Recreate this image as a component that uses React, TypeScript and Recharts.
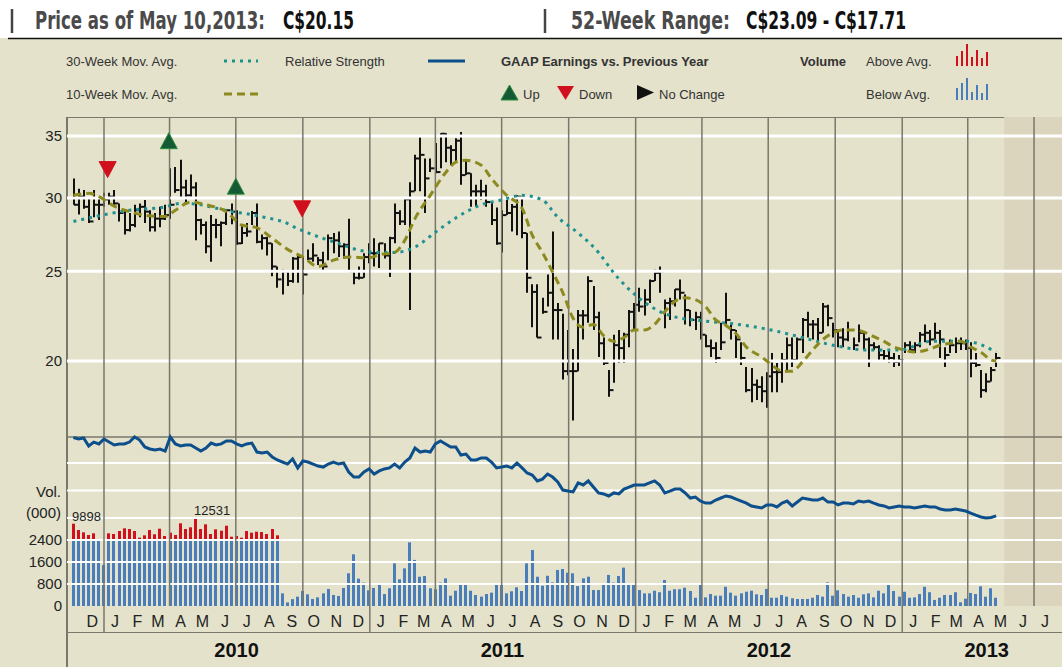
import { ComposedChart, Bar, Line, Scatter, XAxis, YAxis, ReferenceLine, ReferenceArea, LabelList } from "recharts";

// days counted from 1 Jan 2010
const day = (s: string) => (Date.parse(s) - Date.parse("2010-01-01")) / 86400000;

const FIRST_WEEK = "2009-11-20";

const HIGH = [
  31.5, 30.7, 30.6, 30.0, 30.6, 30.1, 30.4, 30.4, 30.6, 29.6, 29.1, 28.9, 29.5, 29.6, 29.85, 29.1, 28.9, 29.35, 29.5, 32.3,
  32.4, 33.0, 31.4, 31.8, 31.2, 28.5, 28.3, 28.75, 28.5, 28.3, 29.1, 29.6, 29.1, 28.05, 28.2, 29.05, 29.6, 27.4, 27.25, 26.8,
  25.3, 25.1, 25.0, 25.9, 26.0, 25.9, 26.4, 26.8, 25.9, 26.25, 27.4, 27.5, 27.6, 26.8, 28.5, 25.0, 25.3, 26.15, 26.8, 27.15,
  26.8, 26.8, 27.25, 29.6, 29.1, 30.0, 31.2, 33.4, 34.9, 33.1, 33.1, 34.4, 35.25, 35.25, 34.2, 34.8, 35.35, 33.0, 31.9, 31.0,
  31.4, 31.0, 29.7, 29.3, 29.1, 29.85, 29.55, 30.2, 30.1, 27.5, 24.2, 24.2, 23.4, 24.8, 27.6, 23.1, 22.5, 21.6, 20.6, 22.7,
  22.7, 24.7, 24.1, 22.6, 21.2, 19.55, 21.35, 21.6, 21.45, 22.7, 23.1, 24.0, 23.9, 24.5, 25.1, 25.3, 23.3, 23.4, 23.9, 24.5,
  23.6, 22.7, 22.6, 22.6, 21.35, 21.1, 20.95, 22.0, 23.7, 21.9, 21.6, 20.95, 19.7, 19.65, 19.1, 19.25, 19.45, 20.4, 19.9, 20.4,
  21.2, 21.2, 21.2, 22.25, 22.6, 22.15, 22.25, 23.1, 23.0, 22.0, 21.6, 21.7, 22.05, 21.2, 21.9, 21.45, 21.2, 20.95, 20.8, 20.55,
  20.55, 20.4, 20.3, 20.95, 21.0, 20.95, 21.5, 21.9, 21.6, 22.0, 21.6, 20.7, 21.1, 21.2, 21.2, 21.1, 20.95, 20.4, 19.55, 19.4,
  19.7, 20.4,
];

const LOW = [
  29.5, 28.8, 29.2, 28.2, 28.6, 28.4, 29.35, 29.5, 29.35, 28.3, 27.4, 27.6, 27.9, 28.6, 28.2, 27.6, 27.6, 27.9, 28.4, 28.5,
  30.4, 30.0, 29.6, 30.1, 27.0, 27.4, 26.15, 25.6, 27.15, 26.6, 28.05, 28.1, 26.7, 26.75, 27.25, 28.05, 26.8, 26.4, 26.0, 24.7,
  24.0, 23.6, 24.1, 24.3, 24.3, 23.6, 25.7, 25.6, 25.4, 25.1, 25.7, 26.15, 25.9, 25.8, 25.0, 24.2, 24.5, 24.6, 25.5, 25.3,
  25.2, 25.8, 24.65, 26.8, 28.05, 28.05, 22.7, 30.5, 30.5, 28.9, 32.0, 31.9, 32.3, 32.8, 32.55, 32.8, 31.0, 31.76, 29.35, 29.35,
  29.85, 29.35, 28.05, 26.7, 26.2, 28.75, 27.6, 27.35, 27.15, 23.7, 21.75, 21.2, 22.5, 22.9, 21.1, 21.1, 19.1, 19.3, 17.25, 19.5,
  21.1, 22.0, 21.6, 20.2, 19.8, 18.3, 18.95, 19.9, 19.9, 20.7, 21.6, 22.6, 22.4, 23.1, 24.4, 23.7, 21.7, 22.15, 22.9, 23.3,
  21.9, 21.8, 21.6, 21.1, 20.7, 20.2, 19.9, 20.55, 21.9, 21.1, 20.15, 19.8, 18.5, 18.05, 18.15, 18.05, 17.8, 18.5, 18.5, 18.95,
  19.45, 19.7, 20.05, 20.4, 21.2, 21.1, 21.0, 21.45, 21.8, 21.2, 20.7, 20.7, 21.0, 20.55, 20.95, 20.55, 19.7, 20.55, 20.05, 20.05,
  19.9, 19.7, 19.75, 20.4, 20.4, 20.4, 20.7, 20.95, 20.8, 21.1, 20.15, 19.7, 20.4, 20.4, 20.55, 20.55, 19.2, 19.7, 18.25, 18.5,
  19.0, 19.7,
];

const CLOSE = [
  29.5, 30.1, 29.35, 28.3, 29.5, 29.5, 29.9, 30.1, 29.6, 28.9, 27.7, 28.05, 29.1, 29.35, 29.0, 27.9, 28.5, 28.5, 28.75, 29.5,
  30.6, 30.8, 30.2, 30.8, 28.4, 28.05, 26.6, 28.05, 28.05, 28.2, 29.1, 29.0, 26.8, 27.5, 27.6, 28.9, 26.9, 27.15, 26.8, 25.3,
  24.5, 25.0, 24.4, 25.8, 25.9, 24.8, 25.8, 26.0, 25.7, 25.3, 27.15, 27.0, 26.6, 26.7, 25.0, 24.6, 24.6, 25.9, 26.15, 26.15,
  26.8, 26.0, 27.15, 28.9, 28.3, 29.9, 30.5, 33.1, 33.4, 31.5, 32.3, 32.0, 35.2, 34.0, 33.8, 34.6, 31.76, 31.9, 30.5, 30.5,
  30.5, 29.7, 28.4, 26.8, 28.75, 28.9, 29.35, 30.1, 27.5, 24.6, 23.75, 21.2, 22.6, 23.7, 22.7, 22.7, 19.5, 19.5, 19.5, 22.4,
  22.4, 24.4, 22.3, 20.9, 19.9, 18.6, 20.8, 20.65, 21.35, 22.6, 23.0, 22.9, 23.3, 24.4, 24.9, 25.0, 23.1, 23.2, 23.9, 23.7,
  22.7, 22.15, 22.3, 21.35, 20.75, 20.65, 20.15, 20.95, 22.15, 21.6, 21.1, 20.15, 18.6, 18.85, 18.75, 18.55, 19.25, 19.45, 19.45, 20.05,
  20.8, 20.05, 21.1, 22.15, 21.9, 21.9, 21.45, 22.9, 22.25, 21.6, 21.2, 21.1, 21.6, 20.8, 21.45, 21.1, 20.8, 20.7, 20.3, 20.25,
  20.15, 19.95, 20.05, 20.8, 20.55, 20.8, 21.35, 21.45, 21.1, 21.45, 21.1, 20.3, 20.8, 20.9, 20.9, 20.65, 19.9, 19.8, 18.6, 19.0,
  19.55, 20.15,
];

// thousands of shares
const VOLUME = [
  9898, 6998, 5940, 4700, 5480, 2380, 1490, 5480, 5160, 6540, 7780, 7460, 6540, 3460, 4560, 7000, 5020, 7600, 4240, 5760,
  4700, 10080, 7460, 8240, 12531, 7460, 9620, 5160, 7320, 6680, 8980, 3920, 4240, 3460, 6540, 5760, 6220, 6080, 5160, 7460,
  4560, 460, 130, 250, 340, 545, 425, 255, 315, 460, 620, 400, 365, 655, 1190, 1880, 995, 850, 570, 655,
  810, 435, 645, 1550, 970, 1370, 2315, 1675, 1065, 1090, 645, 610, 850, 1005, 375, 555, 825, 825, 555, 400,
  340, 435, 485, 790, 765, 460, 535, 680, 545, 1550, 2035, 1065, 740, 1100, 860, 1310, 1345, 1210, 1190, 725,
  1005, 1065, 580, 580, 775, 1130, 850, 1090, 1395, 765, 765, 580, 460, 460, 555, 500, 945, 555, 610, 610,
  665, 545, 300, 800, 315, 435, 375, 375, 700, 485, 375, 460, 520, 555, 425, 400, 620, 300, 300, 400,
  340, 280, 255, 255, 255, 300, 400, 340, 860, 375, 570, 435, 340, 400, 300, 425, 460, 315, 555, 460,
  765, 545, 340, 520, 300, 315, 435, 700, 500, 220, 300, 400, 400, 500, 135, 265, 475, 435, 715, 340,
  645, 300,
];

// relative strength, no printed scale (100 = top of its panel)
const RS = [
  99.7, 98.8, 99.4, 94.7, 97.0, 95.9, 98.8, 97.0, 95.3, 95.9, 95.9, 97.0, 100, 98.2, 94.1, 92.9, 92.3, 92.9, 91.7, 100,
  95.9, 94.7, 95.3, 95.3, 93.5, 91.7, 93.5, 96.4, 95.3, 95.9, 97.6, 97.6, 95.9, 94.7, 95.9, 96.4, 91.1, 90.5, 91.1, 88.2,
  86.4, 85.2, 84.0, 87.0, 81.7, 85.8, 85.2, 84.0, 82.8, 82.2, 84.0, 85.2, 84.0, 84.6, 79.3, 76.3, 76.3, 79.3, 81.1, 78.1,
  79.9, 81.1, 81.7, 84.0, 81.7, 85.2, 87.6, 93.5, 91.1, 91.7, 91.1, 95.9, 97.6, 95.9, 94.1, 94.1, 89.3, 89.9, 86.4, 86.4,
  87.6, 87.6, 85.2, 81.7, 82.2, 82.8, 81.7, 84.6, 81.7, 78.7, 77.5, 74.0, 75.1, 78.1, 76.3, 73.4, 68.6, 68.0, 67.5, 72.8,
  71.6, 74.0, 70.4, 66.9, 66.3, 65.1, 66.9, 66.3, 69.2, 70.4, 71.6, 71.6, 71.6, 72.8, 74.0, 71.6, 66.9, 68.0, 69.2, 69.2,
  66.9, 63.9, 64.5, 62.1, 60.9, 60.9, 62.7, 63.9, 65.1, 64.5, 63.3, 62.1, 60.9, 59.2, 58.6, 58.0, 59.8, 59.8, 58.6, 60.9,
  62.1, 59.2, 61.5, 63.9, 63.3, 62.7, 62.7, 63.9, 61.5, 61.5, 59.8, 60.9, 60.9, 60.4, 62.1, 61.5, 62.1, 60.9, 59.8, 59.2,
  58.0, 58.6, 59.2, 58.6, 58.6, 58.0, 58.6, 59.2, 58.6, 58.6, 57.4, 56.8, 56.8, 57.4, 56.8, 56.2, 55.0, 53.8, 52.7, 52.1,
  52.4, 53.3,
];

// [week index, value]
const MA10_POINTS = [
  [0, 30.2], [3, 30.35], [5, 30.1], [8, 29.4], [11, 29.0], [15, 28.7], [18, 28.65], [20, 29.1], [23, 29.7], [26, 29.5],
  [30, 29.0], [33, 28.05], [36, 27.85], [39, 27.15], [42, 26.4], [45, 25.9], [48, 25.3], [51, 25.7], [54, 25.9], [58, 25.85],
  [60, 26.05], [63, 26.2], [65, 27.0], [67, 28.5], [70, 30.2], [73, 31.95], [75, 32.8], [77, 32.95], [80, 32.55], [82, 31.5],
  [85, 30.2], [88, 29.25], [90, 27.35], [92, 26.2], [94, 24.95], [96, 23.7], [98, 22.25], [100, 21.75], [102, 21.9], [104, 21.3],
  [106, 21.0], [108, 21.2], [110, 21.6], [112, 21.6], [114, 21.9], [116, 22.6], [118, 23.2], [120, 23.4], [122, 23.3], [124, 22.9],
  [126, 22.15], [128, 21.85], [130, 21.4], [132, 20.7], [135, 20.2], [137, 19.8], [139, 19.5], [141, 19.5], [143, 19.95], [145, 20.55],
  [147, 21.1], [149, 21.45], [151, 21.6], [153, 21.6], [155, 21.5], [157, 21.25], [159, 21.0], [161, 20.7], [163, 20.55], [165, 20.45],
  [168, 20.6], [170, 20.8], [172, 20.9], [174, 21.0], [176, 20.7], [178, 20.45], [180, 20.05], [181, 20.0],
];

const MA30_POINTS = [
  [0, 28.3], [5, 28.7], [11, 29.1], [18, 29.35], [21, 29.6], [24, 29.55], [28, 29.25], [31, 29.0], [34, 28.85], [38, 28.55],
  [41, 28.3], [44, 27.8], [48, 27.25], [52, 26.8], [56, 26.35], [60, 26.2], [63, 26.2], [67, 26.55], [71, 27.55], [75, 28.55],
  [80, 29.5], [84, 29.85], [88, 30.2], [92, 29.85], [95, 28.6], [99, 27.5], [103, 26.2], [106, 24.9], [109, 23.9], [112, 23.15],
  [116, 22.5], [119, 22.25], [122, 22.15], [125, 22.05], [129, 21.95], [136, 21.65], [143, 21.2], [149, 20.8], [156, 20.55], [162, 20.55],
  [168, 21.0], [175, 21.0], [181, 20.45],
];

const EARNINGS = [
  { date: "2010-01-06", price: 32.2, dir: "down" },
  { date: "2010-03-31", price: 34.6, dir: "up" },
  { date: "2010-07-01", price: 30.9, dir: "up" },
  { date: "2010-09-30", price: 29.2, dir: "down" },
];

const PRICE_TICKS = [20, 25, 30, 35];
const VOL_TICKS = [0, 800, 1600, 2400];
const VOL_GRID = [800, 1600, 2400, 3200, 4200, 5200];
const VOL_LABELLED = [9898, 12531];
const QUARTERS = [
  "2010-01-01", "2010-04-01", "2010-07-01", "2010-10-01", "2011-01-01", "2011-04-01", "2011-07-01", "2011-10-01",
  "2012-01-01", "2012-04-01", "2012-07-01", "2012-10-01", "2013-01-01", "2013-04-01", "2013-07-01",
];
const YEAR_STARTS = ["2010-01-01", "2011-01-01", "2012-01-01", "2013-01-01"];
const YEAR_LABELS = [
  ["2010", "2010-07-02"],
  ["2011", "2011-07-02"],
  ["2012", "2012-07-02"],
  ["2013", "2013-04-27"],
];
const MONTH_LETTERS = ["J", "F", "M", "A", "M", "J", "J", "A", "S", "O", "N", "D"];
const MONTH_COUNT = 44; // Dec 2009 .. Jul 2013

const X_MIN = -50.8;
const X_MAX = 1315.4;
const FUTURE_START = day("2013-05-21");
const P_DOMAIN = [10.87, 36.7];
const V_MAX = 17782;
const RS_MAX = 289.35;
const VOL_BREAK = 2400;
const ABOVE_SCALE = 0.079; // volume over the break is drawn compressed

const BG = "#e4e2cb";
const SHADE = "#dbd5bd";
const RULE = "#7a776b";
const VOL_BLUE = "#4a7ebb";
const VOL_RED = "#d0101c";
const FONT = '"Liberation Sans", Arial, sans-serif';

const rows: any[] = HIGH.map((h, i) => {
  const v = VOLUME[i];
  return {
    t: day(FIRST_WEEK) + 7 * i,
    range: [LOW[i], h],
    close: CLOSE[i],
    rs: RS[i],
    volume: v,
    volShown: v > VOL_BREAK ? VOL_BREAK + (v - VOL_BREAK) * ABOVE_SCALE : v,
    ma10: null,
    ma30: null,
  };
});
MA10_POINTS.forEach(([i, v]) => (rows[i].ma10 = v));
MA30_POINTS.forEach(([i, v]) => (rows[i].ma30 = v));

const earningsRows = EARNINGS.map((e) => ({ t: day(e.date), price: e.price, dir: e.dir }));

const TICK_INFO = new Map<number, { kind: string; label: string }>();
for (let k = 0; k < MONTH_COUNT; k++) {
  const y = 2009 + Math.floor((11 + k) / 12);
  const m = (11 + k) % 12;
  const d = day(`${y}-${String(m + 1).padStart(2, "0")}-16`);
  TICK_INFO.set(d, { kind: "month", label: MONTH_LETTERS[m] });
}
YEAR_STARTS.forEach((s) => TICK_INFO.set(day(s), { kind: "yearStart", label: "" }));
YEAR_LABELS.forEach(([label, s]) => TICK_INFO.set(day(s), { kind: "year", label }));
const X_TICKS = Array.from(TICK_INFO.keys()).sort((a, b) => a - b);

function AxisTick(props: any) {
  const { x, y, payload } = props;
  const info = TICK_INFO.get(payload.value);
  if (!info) return null;
  if (info.kind === "month")
    return (
      <text x={x} y={y + 21} textAnchor="middle" fontSize={16} fill="#222" fontFamily={FONT}>
        {info.label}
      </text>
    );
  if (info.kind === "yearStart") return <line x1={x} x2={x} y1={y} y2={y + 26} stroke={RULE} strokeWidth={1.5} />;
  return (
    <text x={x} y={y + 51} textAnchor="middle" fontSize={20} fontWeight="bold" fill="#111" fontFamily={FONT}>
      {info.label}
    </text>
  );
}

function PriceBar(props: any) {
  const { x, y, width, height, payload } = props;
  if (x == null || y == null || height == null) return null;
  const [lo, hi] = payload.range;
  const top = Math.min(y, y + height);
  const bottom = Math.max(y, y + height);
  const cx = Math.round(x + width / 2);
  const frac = (Math.log(hi) - Math.log(payload.close)) / (Math.log(hi) - Math.log(lo));
  const yc = top + (bottom - top) * frac;
  return (
    <g>
      <line x1={cx} x2={cx} y1={top} y2={bottom} stroke="#111" strokeWidth={2} />
      <line x1={cx} x2={cx + 4.5} y1={yc} y2={yc} stroke="#111" strokeWidth={2} />
    </g>
  );
}

// blue up to the break, red for the compressed part above it
function VolBar(props: any) {
  const { x, y, width, height, payload } = props;
  if (x == null || !height) return null;
  const bottom = y + height;
  const perUnit = height / payload.volShown;
  const blueH = Math.min(payload.volShown, VOL_BREAK) * perUnit;
  const left = Math.round(x + width / 2 - 1.5);
  return (
    <g>
      <rect x={left} y={bottom - blueH} width={3} height={blueH} fill={VOL_BLUE} />
      {payload.volShown > VOL_BREAK && <rect x={left} y={y} width={3} height={height - blueH} fill={VOL_RED} />}
    </g>
  );
}

function EarningsMark(props: any) {
  const { cx, cy, payload } = props;
  if (cx == null) return null;
  const up = payload.dir === "up";
  const pts = up
    ? `${cx},${cy - 8} ${cx - 8.5},${cy + 8} ${cx + 8.5},${cy + 8}`
    : `${cx - 8.5},${cy - 8} ${cx + 8.5},${cy - 8} ${cx},${cy + 8}`;
  return <polygon points={pts} fill={up ? "#135a35" : "#d0101c"} stroke={up ? "#2d8c3a" : "#d0101c"} strokeWidth={1} />;
}

function VolNote(props: any) {
  const { x, y, width, value } = props;
  if (!VOL_LABELLED.includes(value)) return null;
  return (
    <text x={Math.round(x + width / 2 - 1.5)} y={y - 3} fontSize={13} fill="#222" fontFamily={FONT}>
      {value}
    </text>
  );
}

const ICON_RED = [10, 15, 22, 9, 16, 8, 14];
const ICON_BLUE = [12, 17, 22, 8, 15, 7, 16];
const SQUEEZE = 0.8;

function HeadText({ x, w, fill, children }: any) {
  return (
    <g transform={`translate(${x},29) scale(${SQUEEZE},1)`}>
      <text x={0} y={0} fill={fill} textLength={w / SQUEEZE} lengthAdjust="spacingAndGlyphs">
        {children}
      </text>
    </g>
  );
}

function Header() {
  const cond = '"Liberation Sans Narrow", "DejaVu Sans Condensed", "Liberation Sans", sans-serif';
  return (
    <svg width={1062} height={117} style={{ position: "absolute", left: 0, top: 0 }}>
      <rect x={0} y={0} width={1062} height={38} fill="#fff" />
      <line x1={8} x2={1062} y1={38.5} y2={38.5} stroke="#111" strokeWidth={1.5} />
      <line x1={12} x2={12} y1={9} y2={33} stroke="#444" strokeWidth={2.5} />
      <line x1={545} x2={545} y1={9} y2={33} stroke="#444" strokeWidth={2.5} />
      <g fontFamily={cond} fontWeight="bold" fontSize={25}>
        <HeadText x={35} w={230} fill="#4a4a4a">Price as of May 10,2013:</HeadText>
        <HeadText x={283} w={71} fill="#111">C$20.15</HeadText>
        <HeadText x={571} w={159} fill="#4a4a4a">52-Week Range:</HeadText>
        <HeadText x={746} w={160} fill="#111">C$23.09 - C$17.71</HeadText>
      </g>
      <g fontFamily={FONT} fontSize={13} fill="#333">
        <text x={66} y={66}>30-Week Mov. Avg.</text>
        <text x={66} y={99}>10-Week Mov. Avg.</text>
        <text x={285} y={66}>Relative Strength</text>
        <text x={501} y={66} fontWeight="bold">GAAP Earnings vs. Previous Year</text>
        <text x={800} y={66} fontWeight="bold">Volume</text>
        <text x={866} y={66}>Above Avg.</text>
        <text x={866} y={99}>Below Avg.</text>
        <text x={523} y={99}>Up</text>
        <text x={579} y={99}>Down</text>
        <text x={659} y={99}>No Change</text>
      </g>
      <line x1={224} x2={258} y1={61} y2={61} stroke="#1d9190" strokeWidth={3} strokeDasharray="3 5" />
      <line x1={224} x2={258} y1={94} y2={94} stroke="#8c8a1f" strokeWidth={3} strokeDasharray="8 5" />
      <line x1={428} x2={465} y1={61} y2={61} stroke="#0d4f8b" strokeWidth={3} />
      <polygon points="509.5,85 501,100 518,100" fill="#135a35" stroke="#2d8c3a" />
      <polygon points="557,86 574,86 565.5,100" fill="#d0101c" />
      <polygon points="637,85 654,92.5 637,100" fill="#111" />
      {ICON_RED.map((h, i) => (
        <rect key={"r" + i} x={956 + i * 5} y={66 - h} width={2} height={h} fill={VOL_RED} />
      ))}
      {ICON_BLUE.map((h, i) => (
        <rect key={"b" + i} x={956 + i * 5} y={100 - h} width={2} height={h} fill={VOL_BLUE} />
      ))}
    </svg>
  );
}

export default function App() {
  return (
    <div style={{ position: "absolute", left: 0, top: 0, width: 1062, height: 667, background: BG, overflow: "hidden", fontFamily: FONT }}>
      <Header />
      <div style={{ position: "absolute", left: 66, top: 117, width: 1.5, height: 550, background: RULE }} />
      <div style={{ position: "absolute", left: 66, top: 116.5, width: 996, height: 1.5, background: RULE }} />
      <div style={{ position: "absolute", left: 66, top: 631.5, width: 996, height: 1.5, background: RULE }} />
      <div style={{ position: "absolute", right: 1062 - 61, top: 481, fontSize: 15, color: "#222", textAlign: "right", lineHeight: "21px" }}>
        Vol.
        <br />
        (000)
      </div>
      <div style={{ position: "absolute", left: 0, top: 117 }}>
        <ComposedChart width={1062} height={550} data={rows} margin={{ top: 0, right: 0, bottom: 0, left: 67 }}>
          <XAxis
            dataKey="t"
            type="number"
            domain={[X_MIN, X_MAX]}
            allowDataOverflow
            ticks={X_TICKS}
            interval={0}
            tick={<AxisTick />}
            tickLine={false}
            axisLine={false}
            tickSize={0}
            tickMargin={0}
            height={61}
          />
          <YAxis yAxisId="price" scale="log" domain={P_DOMAIN} allowDataOverflow hide />
          <YAxis yAxisId="vol" domain={[0, V_MAX]} allowDataOverflow hide />
          <YAxis yAxisId="rs" domain={[0, RS_MAX]} allowDataOverflow hide />

          <ReferenceArea yAxisId="vol" x1={FUTURE_START} x2={X_MAX} y1={0} y2={V_MAX} fill={SHADE} fillOpacity={1} stroke="none" />

          {PRICE_TICKS.map((p) => (
            <ReferenceLine key={"p" + p} yAxisId="price" y={p} stroke="#fff" strokeWidth={3}
              label={{ value: String(p), position: "left", fill: "#222", fontSize: 15 }} />
          ))}
          {VOL_GRID.map((v) => (
            <ReferenceLine key={"g" + v} yAxisId="vol" y={v} stroke="#fff" strokeWidth={2} />
          ))}
          {VOL_TICKS.map((v) => (
            <ReferenceLine key={"v" + v} yAxisId="vol" y={v} stroke="none"
              label={{ value: String(v), position: "left", fill: "#222", fontSize: 15 }} />
          ))}
          <ReferenceLine yAxisId="rs" y={100} stroke={RULE} strokeWidth={1.5} />
          {QUARTERS.map((q) => (
            <ReferenceLine key={q} yAxisId="price" x={day(q)} stroke={RULE} strokeWidth={1.5} />
          ))}

          <Bar yAxisId="vol" dataKey="volShown" shape={<VolBar />} barSize={3} isAnimationActive={false}>
            <LabelList dataKey="volume" content={<VolNote />} />
          </Bar>
          <Line yAxisId="rs" dataKey="rs" stroke="#0d4f8b" strokeWidth={3} dot={false} isAnimationActive={false} />

          <Bar yAxisId="price" dataKey="range" shape={<PriceBar />} barSize={2} isAnimationActive={false} />
          <Line yAxisId="price" dataKey="ma30" type="monotone" connectNulls stroke="#1d9190" strokeWidth={3}
            strokeDasharray="3 5" dot={false} isAnimationActive={false} />
          <Line yAxisId="price" dataKey="ma10" type="monotone" connectNulls stroke="#8c8a1f" strokeWidth={3}
            strokeDasharray="8 5" dot={false} isAnimationActive={false} />
          <Scatter yAxisId="price" data={earningsRows} dataKey="price" shape={<EarningsMark />} isAnimationActive={false} />
        </ComposedChart>
      </div>
    </div>
  );
}
